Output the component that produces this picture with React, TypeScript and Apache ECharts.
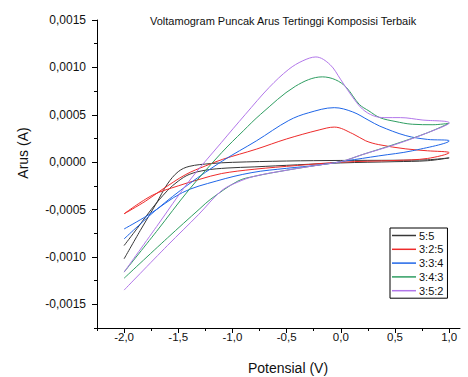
import React, { useEffect, useRef } from 'react';
import * as echarts from 'echarts';

// ---- data (potential in V, current in A) ----
const seriesNames = ['5:5', '3:2:5', '3:3:4', '3:4:3', '3:5:2'];

const potential55 = [-2.0, -1.85, -1.7, -1.6, -1.5, -1.4, -1.2, -1.0, -0.5, 0.0, 0.5, 0.8, 1.0,
  0.8, 0.5, 0.0, -0.4, -0.8, -1.05, -1.25, -1.4, -1.5, -1.6, -1.75, -1.88, -2.0];
const current55 = [-0.00102, -0.00072, -0.00043, -0.00023, -0.0001, -0.000045, -0.000015, -0.000002, 0.000012, 0.000018, 0.00002, 0.000025, 0.000045,
  0.000015, 0.000005, -0.000008, -0.000028, -0.00005, -0.000062, -0.000085, -0.00013, -0.0002, -0.0003, -0.0005, -0.0007, -0.00088];

const potential325 = [-2.0, -1.8, -1.65, -1.43, -1.25, -1.09, -0.78, -0.5, -0.2, -0.06, 0.11, 0.23, 0.35, 0.6, 0.8, 1.0,
  0.8, 0.5, 0.0, -0.4, -0.8, -1.1, -1.3, -1.5, -1.74, -2.0];
const current325 = [-0.000545, -0.00041, -0.00029, -0.00013, -0.00004, 0.00003, 0.000137, 0.000245, 0.00034, 0.00037, 0.0003, 0.000225, 0.000185, 0.00014, 0.00012, 0.0001,
  0.000039, 0.000018, 0.0, -0.000035, -0.000075, -0.00012, -0.00018, -0.00025, -0.00035, -0.000545];

const potential334 = [-2.0, -1.7, -1.4, -1.09, -0.78, -0.48, -0.3, -0.06, 0.11, 0.26, 0.36, 0.6, 0.8, 1.0,
  0.66, 0.35, 0.05, -0.2, -0.5, -0.82, -1.15, -1.46, -1.78, -2.0];
const current334 = [-0.00081, -0.0005, -0.00023, 0.000014, 0.000224, 0.00044, 0.00052, 0.000575, 0.00053, 0.00044, 0.00038, 0.00028, 0.00024, 0.000225,
  0.00012, 0.000066, 0.000014, -0.00003, -0.000065, -0.00011, -0.0002, -0.00032, -0.00056, -0.000705];

const potential343 = [-2.0, -1.7, -1.4, -1.1, -0.9, -0.74, -0.42, -0.17, -0.05, 0.05, 0.17, 0.26, 0.36, 0.5, 0.66, 0.85, 1.0,
  0.8, 0.5, 0.2, 0.0, -0.2, -0.5, -0.8, -0.95, -1.2, -1.3, -1.6, -2.0];
const current343 = [-0.00116, -0.00073, -0.00029, 0.0001, 0.00033, 0.000505, 0.0008, 0.0009, 0.00087, 0.00079, 0.00061, 0.00054, 0.00047, 0.00043, 0.0004, 0.000395, 0.00041,
  0.00031, 0.00019, 0.00008, 0.000005, -0.00003, -0.000085, -0.00015, -0.0002, -0.00039, -0.00049, -0.0008, -0.001225];

const potential352 = [-2.0, -1.7, -1.4, -1.1, -0.88, -0.66, -0.48, -0.35, -0.23, -0.1, 0.0, 0.1, 0.2, 0.3, 0.4, 0.55, 0.75, 1.0,
  0.8, 0.5, 0.2, 0.0, -0.2, -0.5, -0.8, -0.95, -1.1, -1.31, -1.6, -2.0];
const current352 = [-0.00116, -0.00068, -0.0002, 0.00021, 0.000505, 0.00079, 0.00098, 0.00107, 0.00111, 0.00103, 0.00087, 0.0007, 0.00056, 0.00049, 0.00047, 0.00047, 0.000445, 0.000415,
  0.00031, 0.000185, 0.00008, 0.000005, -0.00003, -0.000085, -0.00015, -0.00021, -0.0003, -0.00055, -0.00088, -0.00135];

const potentials = [potential55, potential325, potential334, potential343, potential352];
const currents = [current55, current325, current334, current343, current352];

// ---- ticks ----
const xMajorTicks = [-2.0, -1.5, -1.0, -0.5, 0.0, 0.5, 1.0];
const xMinorTicks = [-2.25, -1.75, -1.25, -0.75, -0.25, 0.25, 0.75];
const yMajorTicks = [-0.0015, -0.001, -0.0005, 0, 0.0005, 0.001, 0.0015];
const yMinorTicks = [-0.00175, -0.00125, -0.00075, -0.00025, 0.00025, 0.00075, 0.00125];

const titleText = 'Voltamogram Puncak Arus Tertinggi Komposisi Terbaik';
const xName = 'Potensial (V)';
const yName = 'Arus (A)';

// ---- styles ----
const colors = ['#383838', '#ee2b2b', '#1f66e8', '#2f9e62', '#b277ea'];
const FONT = '"Liberation Sans", Arial, Helvetica, sans-serif';
const TEXT = '#111';

export default function App() {
  const ref = useRef<HTMLDivElement>(null);

  useEffect(() => {
    if (!ref.current) return;
    const chart = echarts.init(ref.current, undefined, { renderer: 'svg' });

    const series = seriesNames.map((name, i) => ({
      name,
      type: 'line',
      xAxisIndex: 0,
      yAxisIndex: 0,
      data: potentials[i].map((v, k) => [v, currents[i][k]]),
      smooth: 0.35,
      symbol: 'none',
      showSymbol: false,
      lineStyle: { width: 1, color: colors[i] },
      itemStyle: { color: colors[i] },
      z: 2 + i,
    }));

    const commonX = {
      type: 'value',
      min: -2.25,
      max: 1.1,
      position: 'bottom',
      splitLine: { show: false },
    };
    const commonY = {
      type: 'value',
      min: -0.00175,
      max: 0.0015,
      position: 'left',
      splitLine: { show: false },
    };

    chart.setOption({
      animation: false,
      textStyle: { fontFamily: FONT },
      title: {
        text: titleText,
        left: 150,
        top: 15,
        padding: 0,
        textStyle: { fontSize: 11, fontWeight: 'normal', color: TEXT, fontFamily: FONT },
      },
      legend: {
        orient: 'vertical',
        left: 390,
        top: 228,
        padding: [2, 4, 2, 2],
        itemGap: 2.8,
        itemWidth: 24,
        itemHeight: 1.5,
        icon: 'rect',
        borderColor: '#000',
        borderWidth: 1,
        borderRadius: 0,
        data: seriesNames,
        textStyle: { fontSize: 11, color: TEXT, fontFamily: FONT, padding: [0, 0, 0, -2] },
      },
      grid: { left: 97, right: 8, top: 20, bottom: 49, containLabel: false },
      xAxis: [
        {
          ...commonX,
          axisLine: { show: true, onZero: false, lineStyle: { color: '#000', width: 1 } },
          axisTick: { show: true, inside: false, length: 5, customValues: xMajorTicks, lineStyle: { color: '#000' } },
          axisLabel: {
            customValues: xMajorTicks,
            margin: 3,
            fontSize: 11.5,
            color: TEXT,
            fontFamily: FONT,
            formatter: (v: number) => v.toFixed(1).replace('.', ','),
          },
        },
        {
          ...commonX,
          axisLine: { show: false, onZero: false },
          axisTick: { show: true, inside: false, length: 3, customValues: xMinorTicks, lineStyle: { color: '#000' } },
          axisLabel: { show: false },
        },
      ],
      yAxis: [
        {
          ...commonY,
          axisLine: { show: true, onZero: false, lineStyle: { color: '#000', width: 1 } },
          axisTick: { show: true, inside: false, length: 5, customValues: yMajorTicks, lineStyle: { color: '#000' } },
          axisLabel: {
            customValues: yMajorTicks,
            margin: 11,
            fontSize: 12,
            color: TEXT,
            fontFamily: FONT,
            formatter: (v: number) => v.toFixed(4).replace('.', ','),
          },
        },
        {
          ...commonY,
          axisLine: { show: false, onZero: false },
          axisTick: { show: true, inside: false, length: 3, customValues: yMinorTicks, lineStyle: { color: '#000' } },
          axisLabel: { show: false },
        },
      ],
      graphic: [
        {
          type: 'text',
          x: 23,
          y: 153,
          rotation: Math.PI / 2,
          style: { text: yName, fontSize: 14, fill: TEXT, fontFamily: FONT, textAlign: 'center', textVerticalAlign: 'middle' },
        },
        {
          type: 'text',
          x: 288,
          y: 368,
          style: { text: xName, fontSize: 14, fill: TEXT, fontFamily: FONT, textAlign: 'center', textVerticalAlign: 'middle' },
        },
      ],
      series,
    });

    return () => chart.dispose();
  }, []);

  return (
    <div
      ref={ref}
      style={{ position: 'fixed', left: 0, top: 0, width: 468, height: 377, background: '#fff' }}
    />
  );
}
